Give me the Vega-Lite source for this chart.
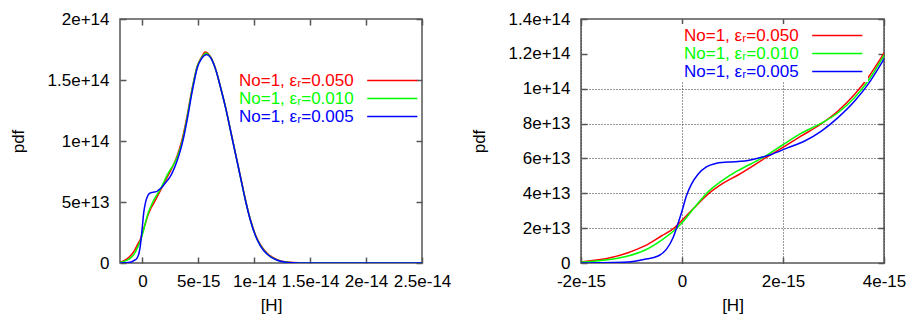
{
  "$schema": "https://vega.github.io/schema/vega-lite/v6.json",
  "background": "white",
  "padding": {"left": 8, "top": 9, "right": 5, "bottom": 5},
  "config": {
    "font": "Liberation Sans",
    "view": {"stroke": "#555555", "strokeWidth": 1.5},
    "axis": {
      "labelFont": "Liberation Sans", "titleFont": "Liberation Sans",
      "labelFontSize": 17, "titleFontSize": 17, "titleFontWeight": "normal",
      "labelColor": "black", "titleColor": "black",
      "domain": false, "tickColor": "#555555", "tickWidth": 1.5, "tickSize": -6,
      "gridColor": "#333333", "gridDash": [1, 2], "gridWidth": 1,
      "labelOverlap": false, "labelFlush": false
    },
    "legend": {"labelFont": "Liberation Sans", "labelFontSize": 17}
  },
  "datasets": {
    "d": [
      {"s": "No=1, εᵣ=0.050", "x": -2.0e-15, "y": 0.06e13},
      {"s": "No=1, εᵣ=0.050", "x": -1.40e-15, "y": 0.31e13},
      {"s": "No=1, εᵣ=0.050", "x": -1.07e-15, "y": 0.59e13},
      {"s": "No=1, εᵣ=0.050", "x": -0.739e-15, "y": 0.98e13},
      {"s": "No=1, εᵣ=0.050", "x": -0.41e-15, "y": 1.55e13},
      {"s": "No=1, εᵣ=0.050", "x": -0.145e-15, "y": 2.03e13},
      {"s": "No=1, εᵣ=0.050", "x": 0, "y": 2.45e13},
      {"s": "No=1, εᵣ=0.050", "x": 0.251e-15, "y": 3.2e13},
      {"s": "No=1, εᵣ=0.050", "x": 0.515e-15, "y": 3.95e13},
      {"s": "No=1, εᵣ=0.050", "x": 0.8e-15, "y": 4.55e13},
      {"s": "No=1, εᵣ=0.050", "x": 1.109e-15, "y": 5.05e13},
      {"s": "No=1, εᵣ=0.050", "x": 1.637e-15, "y": 6.0e13},
      {"s": "No=1, εᵣ=0.050", "x": 1.99e-15, "y": 6.62e13},
      {"s": "No=1, εᵣ=0.050", "x": 2.363e-15, "y": 7.29e13},
      {"s": "No=1, εᵣ=0.050", "x": 2.76e-15, "y": 7.99e13},
      {"s": "No=1, εᵣ=0.050", "x": 3.089e-15, "y": 8.72e13},
      {"s": "No=1, εᵣ=0.050", "x": 3.419e-15, "y": 9.68e13},
      {"s": "No=1, εᵣ=0.050", "x": 3.683e-15, "y": 10.63e13},
      {"s": "No=1, εᵣ=0.050", "x": 3.994e-15, "y": 12.01e13},
      {"s": "No=1, εᵣ=0.050", "x": 4.464e-15, "y": 14.37e13},
      {"s": "No=1, εᵣ=0.050", "x": 4.911e-15, "y": 16.15e13},
      {"s": "No=1, εᵣ=0.050", "x": 5.357e-15, "y": 16.97e13},
      {"s": "No=1, εᵣ=0.050", "x": 5.595e-15, "y": 17.30e13},
      {"s": "No=1, εᵣ=0.050", "x": 6.101e-15, "y": 16.89e13},
      {"s": "No=1, εᵣ=0.050", "x": 6.548e-15, "y": 15.9e13},
      {"s": "No=1, εᵣ=0.050", "x": 6.994e-15, "y": 14.4e13},
      {"s": "No=1, εᵣ=0.050", "x": 7.44e-15, "y": 12.75e13},
      {"s": "No=1, εᵣ=0.050", "x": 7.887e-15, "y": 10.85e13},
      {"s": "No=1, εᵣ=0.050", "x": 8.333e-15, "y": 8.95e13},
      {"s": "No=1, εᵣ=0.050", "x": 8.78e-15, "y": 7.05e13},
      {"s": "No=1, εᵣ=0.050", "x": 9.226e-15, "y": 5.15e13},
      {"s": "No=1, εᵣ=0.050", "x": 9.673e-15, "y": 3.52e13},
      {"s": "No=1, εᵣ=0.050", "x": 10.119e-15, "y": 2.3e13},
      {"s": "No=1, εᵣ=0.050", "x": 10.565e-15, "y": 1.48e13},
      {"s": "No=1, εᵣ=0.050", "x": 11.16e-15, "y": 0.8e13},
      {"s": "No=1, εᵣ=0.050", "x": 12.05e-15, "y": 0.28e13},
      {"s": "No=1, εᵣ=0.050", "x": 12.95e-15, "y": 0.08e13},
      {"s": "No=1, εᵣ=0.050", "x": 14e-15, "y": 0.02e13},
      {"s": "No=1, εᵣ=0.050", "x": 16e-15, "y": 0},
      {"s": "No=1, εᵣ=0.050", "x": 25e-15, "y": 0},

      {"s": "No=1, εᵣ=0.010", "x": -2.0e-15, "y": 0.04e13},
      {"s": "No=1, εᵣ=0.010", "x": -1.40e-15, "y": 0.21e13},
      {"s": "No=1, εᵣ=0.010", "x": -1.07e-15, "y": 0.40e13},
      {"s": "No=1, εᵣ=0.010", "x": -0.739e-15, "y": 0.73e13},
      {"s": "No=1, εᵣ=0.010", "x": -0.41e-15, "y": 1.30e13},
      {"s": "No=1, εᵣ=0.010", "x": -0.145e-15, "y": 1.89e13},
      {"s": "No=1, εᵣ=0.010", "x": 0, "y": 2.31e13},
      {"s": "No=1, εᵣ=0.010", "x": 0.251e-15, "y": 3.2e13},
      {"s": "No=1, εᵣ=0.010", "x": 0.47e-15, "y": 3.95e13},
      {"s": "No=1, εᵣ=0.010", "x": 0.911e-15, "y": 4.95e13},
      {"s": "No=1, εᵣ=0.010", "x": 1.109e-15, "y": 5.3e13},
      {"s": "No=1, εᵣ=0.010", "x": 1.571e-15, "y": 6.0e13},
      {"s": "No=1, εᵣ=0.010", "x": 1.99e-15, "y": 6.77e13},
      {"s": "No=1, εᵣ=0.010", "x": 2.363e-15, "y": 7.45e13},
      {"s": "No=1, εᵣ=0.010", "x": 2.76e-15, "y": 8.02e13},
      {"s": "No=1, εᵣ=0.010", "x": 3.089e-15, "y": 8.62e13},
      {"s": "No=1, εᵣ=0.010", "x": 3.419e-15, "y": 9.49e13},
      {"s": "No=1, εᵣ=0.010", "x": 3.683e-15, "y": 10.44e13},
      {"s": "No=1, εᵣ=0.010", "x": 3.994e-15, "y": 11.88e13},
      {"s": "No=1, εᵣ=0.010", "x": 4.464e-15, "y": 14.3e13},
      {"s": "No=1, εᵣ=0.010", "x": 4.911e-15, "y": 16.1e13},
      {"s": "No=1, εᵣ=0.010", "x": 5.357e-15, "y": 16.9e13},
      {"s": "No=1, εᵣ=0.010", "x": 5.7e-15, "y": 17.2e13},
      {"s": "No=1, εᵣ=0.010", "x": 6.101e-15, "y": 16.85e13},
      {"s": "No=1, εᵣ=0.010", "x": 6.548e-15, "y": 15.88e13},
      {"s": "No=1, εᵣ=0.010", "x": 6.994e-15, "y": 14.38e13},
      {"s": "No=1, εᵣ=0.010", "x": 7.44e-15, "y": 12.74e13},
      {"s": "No=1, εᵣ=0.010", "x": 7.887e-15, "y": 10.83e13},
      {"s": "No=1, εᵣ=0.010", "x": 8.333e-15, "y": 8.92e13},
      {"s": "No=1, εᵣ=0.010", "x": 8.78e-15, "y": 7.0e13},
      {"s": "No=1, εᵣ=0.010", "x": 9.226e-15, "y": 5.1e13},
      {"s": "No=1, εᵣ=0.010", "x": 9.673e-15, "y": 3.47e13},
      {"s": "No=1, εᵣ=0.010", "x": 10.119e-15, "y": 2.24e13},
      {"s": "No=1, εᵣ=0.010", "x": 10.565e-15, "y": 1.42e13},
      {"s": "No=1, εᵣ=0.010", "x": 11.16e-15, "y": 0.74e13},
      {"s": "No=1, εᵣ=0.010", "x": 12.05e-15, "y": 0.24e13},
      {"s": "No=1, εᵣ=0.010", "x": 12.95e-15, "y": 0.06e13},
      {"s": "No=1, εᵣ=0.010", "x": 14e-15, "y": 0.01e13},
      {"s": "No=1, εᵣ=0.010", "x": 16e-15, "y": 0},
      {"s": "No=1, εᵣ=0.010", "x": 25e-15, "y": 0},

      {"s": "No=1, εᵣ=0.005", "x": -2.0e-15, "y": 0},
      {"s": "No=1, εᵣ=0.005", "x": -1.07e-15, "y": 0.06e13},
      {"s": "No=1, εᵣ=0.005", "x": -0.739e-15, "y": 0.21e13},
      {"s": "No=1, εᵣ=0.005", "x": -0.475e-15, "y": 0.40e13},
      {"s": "No=1, εᵣ=0.005", "x": -0.31e-15, "y": 0.78e13},
      {"s": "No=1, εᵣ=0.005", "x": -0.178e-15, "y": 1.45e13},
      {"s": "No=1, εᵣ=0.005", "x": -0.079e-15, "y": 2.26e13},
      {"s": "No=1, εᵣ=0.005", "x": 0, "y": 2.98e13},
      {"s": "No=1, εᵣ=0.005", "x": 0.086e-15, "y": 3.84e13},
      {"s": "No=1, εᵣ=0.005", "x": 0.185e-15, "y": 4.51e13},
      {"s": "No=1, εᵣ=0.005", "x": 0.317e-15, "y": 5.09e13},
      {"s": "No=1, εᵣ=0.005", "x": 0.482e-15, "y": 5.51e13},
      {"s": "No=1, εᵣ=0.005", "x": 0.647e-15, "y": 5.70e13},
      {"s": "No=1, εᵣ=0.005", "x": 0.911e-15, "y": 5.79e13},
      {"s": "No=1, εᵣ=0.005", "x": 1.241e-15, "y": 5.85e13},
      {"s": "No=1, εᵣ=0.005", "x": 1.439e-15, "y": 5.97e13},
      {"s": "No=1, εᵣ=0.005", "x": 1.769e-15, "y": 6.23e13},
      {"s": "No=1, εᵣ=0.005", "x": 2.099e-15, "y": 6.62e13},
      {"s": "No=1, εᵣ=0.005", "x": 2.429e-15, "y": 7.0e13},
      {"s": "No=1, εᵣ=0.005", "x": 2.76e-15, "y": 7.57e13},
      {"s": "No=1, εᵣ=0.005", "x": 3.089e-15, "y": 8.34e13},
      {"s": "No=1, εᵣ=0.005", "x": 3.419e-15, "y": 9.29e13},
      {"s": "No=1, εᵣ=0.005", "x": 3.683e-15, "y": 10.25e13},
      {"s": "No=1, εᵣ=0.005", "x": 3.994e-15, "y": 11.68e13},
      {"s": "No=1, εᵣ=0.005", "x": 4.464e-15, "y": 14.10e13},
      {"s": "No=1, εᵣ=0.005", "x": 4.911e-15, "y": 16.01e13},
      {"s": "No=1, εᵣ=0.005", "x": 5.357e-15, "y": 16.83e13},
      {"s": "No=1, εᵣ=0.005", "x": 5.744e-15, "y": 17.10e13},
      {"s": "No=1, εᵣ=0.005", "x": 6.101e-15, "y": 16.83e13},
      {"s": "No=1, εᵣ=0.005", "x": 6.548e-15, "y": 15.87e13},
      {"s": "No=1, εᵣ=0.005", "x": 6.994e-15, "y": 14.37e13},
      {"s": "No=1, εᵣ=0.005", "x": 7.44e-15, "y": 12.73e13},
      {"s": "No=1, εᵣ=0.005", "x": 7.887e-15, "y": 10.82e13},
      {"s": "No=1, εᵣ=0.005", "x": 8.333e-15, "y": 8.91e13},
      {"s": "No=1, εᵣ=0.005", "x": 8.78e-15, "y": 6.99e13},
      {"s": "No=1, εᵣ=0.005", "x": 9.226e-15, "y": 5.08e13},
      {"s": "No=1, εᵣ=0.005", "x": 9.673e-15, "y": 3.44e13},
      {"s": "No=1, εᵣ=0.005", "x": 10.119e-15, "y": 2.21e13},
      {"s": "No=1, εᵣ=0.005", "x": 10.565e-15, "y": 1.39e13},
      {"s": "No=1, εᵣ=0.005", "x": 11.16e-15, "y": 0.71e13},
      {"s": "No=1, εᵣ=0.005", "x": 12.05e-15, "y": 0.22e13},
      {"s": "No=1, εᵣ=0.005", "x": 12.95e-15, "y": 0.05e13},
      {"s": "No=1, εᵣ=0.005", "x": 14e-15, "y": 0.01e13},
      {"s": "No=1, εᵣ=0.005", "x": 16e-15, "y": 0},
      {"s": "No=1, εᵣ=0.005", "x": 25e-15, "y": 0}
    ]
  },
  "spacing": 17,
  "resolve": {"scale": {"x": "independent", "y": "independent", "color": "independent"}, "legend": {"color": "independent"}},
  "hconcat": [
    {
      "width": 302, "height": 244,
      "data": {"name": "d"},
      "layer": [
        {
          "mark": {"type": "line", "interpolate": "monotone", "strokeWidth": 1.5, "clip": true},
          "encoding": {
            "x": {"field": "x", "type": "quantitative",
              "scale": {"domain": [-2e-15, 2.5e-14], "nice": false, "zero": false},
              "axis": {"values": [0, 5e-15, 1e-14, 1.5e-14, 2e-14, 2.5e-14], "title": "[H]", "grid": false,
                "labelExpr": "datum.value == 0 ? '0' : replace(format(datum.value, '~e'), '\u2212', '-')", "labelPadding": 16, "titlePadding": 8}},
            "y": {"field": "y", "type": "quantitative",
              "scale": {"domain": [0, 2e14], "nice": false},
              "axis": {"values": [0, 5e13, 1e14, 1.5e14, 2e14], "title": "pdf", "grid": false,
                "labelExpr": "datum.value == 0 ? '0' : replace(format(datum.value, '~e'), '\u2212', '-')", "labelPadding": 17, "titlePadding": 20}},
            "color": {"field": "s", "type": "nominal",
              "scale": {"domain": ["No=1, εᵣ=0.050", "No=1, εᵣ=0.010", "No=1, εᵣ=0.005"], "range": ["#ff0000", "#00ff00", "#0000ff"]},
              "legend": {"title": null, "orient": "none", "legendX": 117, "legendY": 52, "padding": 0, "zindex": 1,
                "symbolType": "M14.2,0H20.1", "symbolSize": 289, "symbolStrokeWidth": 1.5,
                "labelFontSize": 17, "labelAlign": "left", "labelOffset": -17, "rowPadding": 0,
                "encode": {"labels": {"update": {"fill": {"signal": "indexof(datum.value,'0.050')>=0?'#ff0000':(indexof(datum.value,'0.010')>=0?'#00ff00':'#0000ff')"}}}}}}
          }
        },
        {
          "mark": {"type": "line", "opacity": 0, "clip": true},
          "encoding": {
            "x": {"field": "x", "type": "quantitative",
              "axis": {"orient": "top", "values": [0, 5e-15, 1e-14, 1.5e-14, 2e-14, 2.5e-14], "labels": false, "title": null, "grid": false}},
            "y": {"field": "y", "type": "quantitative",
              "axis": {"orient": "right", "values": [0, 5e13, 1e14, 1.5e14, 2e14], "labels": false, "title": null, "grid": false}},
            "detail": {"field": "s"}
          }
        }
      ],
      "resolve": {"axis": {"x": "independent", "y": "independent"}}
    },
    {
      "width": 303, "height": 244,
      "data": {"name": "d"},
      "layer": [
        {
          "mark": {"type": "line", "interpolate": "monotone", "strokeWidth": 1.5, "clip": true},
          "encoding": {
            "x": {"field": "x", "type": "quantitative",
              "scale": {"domain": [-2e-15, 4e-15], "nice": false, "zero": false},
              "axis": {"values": [-2e-15, 0, 2e-15, 4e-15], "title": "[H]", "grid": true,
                "labelExpr": "datum.value == 0 ? '0' : replace(format(datum.value, '~e'), '\u2212', '-')", "labelPadding": 16, "titlePadding": 8}},
            "y": {"field": "y", "type": "quantitative",
              "scale": {"domain": [0, 1.4e14], "nice": false},
              "axis": {"values": [0, 2e13, 4e13, 6e13, 8e13, 1e14, 1.2e14, 1.4e14], "title": "pdf", "grid": false,
                "labelExpr": "datum.value == 0 ? '0' : replace(format(datum.value, '~e'), '\u2212', '-')", "labelPadding": 17, "titlePadding": 20}},
            "color": {"field": "s", "type": "nominal",
              "scale": {"domain": ["No=1, εᵣ=0.050", "No=1, εᵣ=0.010", "No=1, εᵣ=0.005"], "range": ["#ff0000", "#00ff00", "#0000ff"]},
              "legend": {"title": null, "orient": "none", "legendX": 99, "legendY": 5, "padding": 2, "zindex": 1, "fillColor": "white",
                "symbolType": "M14.2,0H20.1", "symbolSize": 289, "symbolStrokeWidth": 1.5,
                "labelFontSize": 17, "labelAlign": "left", "labelOffset": -17, "rowPadding": 0,
                "encode": {"labels": {"update": {"fill": {"signal": "indexof(datum.value,'0.050')>=0?'#ff0000':(indexof(datum.value,'0.010')>=0?'#00ff00':'#0000ff')"}}}}}}
          }
        },
        {
          "mark": {"type": "line", "opacity": 0, "clip": true},
          "encoding": {
            "x": {"field": "x", "type": "quantitative",
              "axis": {"orient": "top", "values": [-2e-15, 0, 2e-15, 4e-15], "labels": false, "title": null, "grid": false}},
            "y": {"field": "y", "type": "quantitative",
              "axis": {"orient": "right", "values": [0, 2e13, 4e13, 6e13, 8e13, 1e14, 1.2e14, 1.4e14], "labels": false, "title": null, "grid": true,
                "gridOpacity": {"condition": {"test": "datum.value > 1.1e14 || datum.value < 1e13", "value": 0}, "value": 1}}},
            "detail": {"field": "s"}
          }
        }
      ],
      "resolve": {"axis": {"x": "independent", "y": "independent"}}
    }
  ]
}
